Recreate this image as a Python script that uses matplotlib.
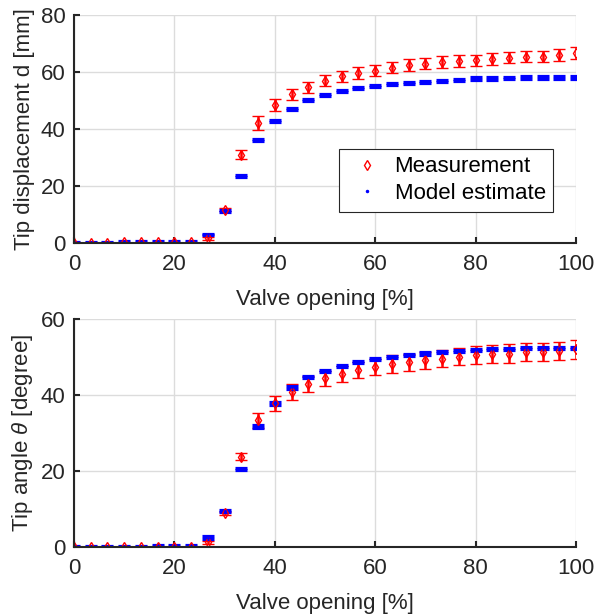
import matplotlib
matplotlib.use("Agg")
import matplotlib.pyplot as plt
from matplotlib.lines import Line2D

plt.rcParams['font.family'] = ['Liberation Sans', 'DejaVu Sans']
plt.rcParams['mathtext.fontset'] = 'custom'
plt.rcParams['mathtext.rm'] = 'Liberation Sans'
plt.rcParams['mathtext.it'] = 'Liberation Sans:italic'

# ---------------- data ----------------
valve = [0, 3.33, 6.67, 10, 13.33, 16.67, 20, 23.33, 26.67, 30, 33.33, 36.67, 40,
         43.33, 46.67, 50, 53.33, 56.67, 60, 63.33, 66.67, 70, 73.33, 76.67, 80,
         83.33, 86.67, 90, 93.33, 96.67, 100]

d_meas = [0, 0, 0, 0.2, 0.2, 0.2, 0.3, 0.3, 1.7, 11.7, 31.0, 42.1, 48.4,
          52.2, 54.7, 57.0, 58.5, 59.7, 60.5, 61.5, 62.4, 62.9, 63.5, 63.9, 64.1,
          64.6, 65.0, 65.3, 65.4, 65.9, 66.6]
d_meas_err = [0.2, 0.2, 0.2, 0.2, 0.2, 0.2, 0.2, 0.2, 0.5, 0.5, 1.5, 2.5, 2.2,
              1.9, 1.9, 2.0, 2.0, 2.0, 2.0, 2.0, 2.0, 2.0, 2.1, 2.1, 2.0,
              2.0, 1.9, 1.9, 1.9, 2.0, 2.0]
d_model = [0, 0.1, 0.1, 0.3, 0.3, 0.3, 0.4, 0.4, 3.1, 11.3, 23.6, 36.1, 42.8,
           47.0, 50.2, 51.9, 53.3, 54.4, 55.1, 55.8, 56.2, 56.5, 56.9, 57.2, 57.6,
           57.8, 57.9, 58.0, 58.0, 58.0, 58.0]
d_model_err = [0.2, 0.2, 0.2, 0.3, 0.3, 0.3, 0.3, 0.3, 0.2, 0.3, 0.3, 0.3, 0.3,
               0.3, 0.3, 0.3, 0.3, 0.3, 0.3, 0.3, 0.3, 0.3, 0.4, 0.4, 0.5,
               0.5, 0.5, 0.5, 0.5, 0.5, 0.5]

th_meas = [0, 0, 0, 0, 0, 0.1, 0.1, 0.1, 1.2, 8.9, 23.8, 33.3, 37.8,
           40.8, 42.9, 44.4, 45.5, 46.6, 47.4, 48.1, 48.6, 49.1, 49.6, 50.1, 50.5,
           50.8, 50.9, 51.3, 51.4, 51.6, 52.0]
th_meas_err = [0.2, 0.2, 0.2, 0.2, 0.2, 0.2, 0.2, 0.2, 0.3, 0.4, 0.9, 2.0, 2.0,
               2.0, 2.0, 1.9, 2.1, 2.1, 2.2, 2.3, 2.3, 2.3, 2.3, 2.3, 2.4,
               2.4, 2.4, 2.4, 2.4, 2.4, 2.4]
th_model = [0, 0, 0.1, 0.1, 0.1, 0.3, 0.3, 0.3, 2.5, 9.5, 20.6, 31.7, 37.8,
            42.0, 44.8, 46.3, 47.6, 48.7, 49.4, 50.0, 50.6, 50.9, 51.4, 51.6, 51.9,
            52.1, 52.1, 52.3, 52.3, 52.3, 52.3]
th_model_err = [0.2] * 8 + [0.3] * 23

xticks = [0, 20, 40, 60, 80, 100]
xlabel = 'Valve opening [%]'

# ---------------- figure ----------------
W, H = 603, 614
fig = plt.figure(figsize=(W / 100, H / 100), dpi=100)

def axes_px(left, top, right, bottom):
    return fig.add_axes([left / W, 1 - bottom / H, (right - left) / W, (bottom - top) / H])

ax1 = axes_px(74, 15, 576, 243)
ax2 = axes_px(74, 319, 576, 547)

dark = '#262626'
FS = 16

def style(ax, ylim, yticks, ylabel):
    ax.set_xlim(0, 100)
    ax.set_ylim(*ylim)
    ax.set_xticks(xticks)
    ax.set_yticks(yticks)
    ax.set_axisbelow(True)
    ax.grid(True, color='#dcdcdc', linewidth=1.0)
    for s in ['top', 'right']:
        ax.spines[s].set_visible(False)
    for s in ['left', 'bottom']:
        ax.spines[s].set_color(dark)
        ax.spines[s].set_linewidth(1.5)
    ax.tick_params(direction='in', length=4, width=1.5, colors=dark,
                   labelsize=FS, labelcolor=dark)
    ax.tick_params(axis='x', pad=8)
    ax.tick_params(axis='y', pad=6)
    ax.set_xlabel(xlabel, fontsize=FS, color=dark, labelpad=10)
    ax.set_ylabel(ylabel, fontsize=FS, color=dark, labelpad=4)

def draw(ax, meas, merr, model, moderr):
    ax.errorbar(valve, meas, yerr=merr, fmt='d', color='red', mfc='none',
                mec='red', ms=5.5, mew=1.0, elinewidth=1.8, capsize=4.2, capthick=2.3)
    ax.errorbar(valve, model, yerr=moderr, fmt='.', color='blue', ms=2,
                elinewidth=1.5, capsize=4.2, capthick=2.3)

draw(ax1, d_meas, d_meas_err, d_model, d_model_err)
style(ax1, (0, 80), [0, 20, 40, 60, 80], 'Tip displacement d [mm]')

draw(ax2, th_meas, th_meas_err, th_model, th_model_err)
style(ax2, (0, 60), [0, 20, 40, 60], r'Tip angle $\theta$ [degree]')

handles = [Line2D([], [], ls='none', marker='d', color='red', mfc='none', ms=5.5, mew=1.0),
           Line2D([], [], ls='none', marker='.', color='blue', ms=3)]
leg = ax1.legend(handles, ['Measurement', 'Model estimate'], loc='lower right',
                 bbox_to_anchor=(0.955, 0.137), borderaxespad=0, fontsize=FS,
                 frameon=True, fancybox=False, framealpha=1, edgecolor=dark,
                 handlelength=1.8, handletextpad=0.35, borderpad=0.35,
                 labelspacing=0.25)
leg.get_frame().set_linewidth(0.8)

fig.savefig('out.png', dpi=100)
